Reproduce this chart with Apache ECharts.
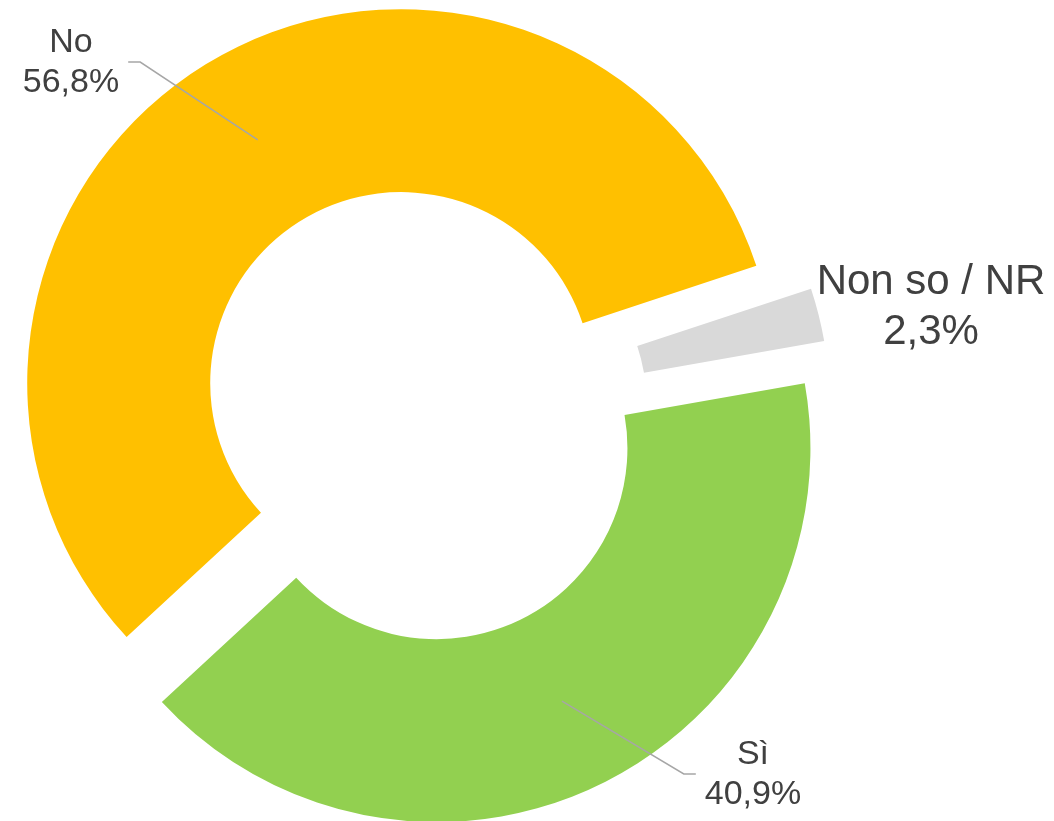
<!DOCTYPE html>
<html>
<head>
<meta charset="utf-8">
<title>Donut</title>
<script src="https://cdn.jsdelivr.net/npm/echarts@6/dist/echarts.min.js"></script>
<style>
    html, body { margin: 0; padding: 0; background: #fff; }
    #main { width: 1054px; height: 821px; }
</style>
</head>
<body>
<div id="main"></div>
<script>
// 数据
var categories = ['Sì', 'No', 'Non so / NR'];
var values = [40.9, 56.8, 2.3];
var colors = ['#92D050', '#FFC000', '#D9D9D9'];

var chart = echarts.init(document.getElementById('main'));

// 圆心、内外半径、分离距离、起始角度
var cx = 420, cy = 415, rIn = 191, rOut = 374, explode = 37, startAngle = 10;
// 标签中心位置和字号
var labelPos = [[753, 775], [71, 63], [931, 307]];
var labelFont = [34, 34, 42];

var total = values.reduce(function (a, b) { return a + b; }, 0);
var acc = 0;
var mids = values.map(function (v) {
    var span = v / total * 360;
    var m = startAngle - (acc + span / 2);
    acc += span;
    return m;
});

var series = [];

// 每个扇区一个系列，圆心沿中线方向偏移（分离效果）
categories.forEach(function (name, i) {
    var rad = mids[i] * Math.PI / 180;
    var c = [cx + explode * Math.cos(rad), cy - explode * Math.sin(rad)];
    var base = {
        type: 'pie',
        center: c,
        radius: [rIn, rOut],
        startAngle: startAngle,
        clockwise: true,
        avoidLabelOverlap: false,
        silent: true
    };

    // 扇区
    series.push(echarts.util.merge({
        z: 2,
        label: { show: false },
        labelLine: { show: false },
        data: categories.map(function (n, j) {
            return {
                name: n, value: values[j],
                itemStyle: j === i ? { color: colors[j] } : { opacity: 0 }
            };
        })
    }, base));

    // 标签和引导线（放在上层，扇区透明）
    series.push(echarts.util.merge({
        z: 5,
        label: {
            show: true,
            position: 'outside',
            color: '#404040',
            fontFamily: 'Liberation Sans, Arial, sans-serif',
            fontSize: labelFont[i],
            lineHeight: Math.round(labelFont[i] * 1.18),
            align: 'center',
            formatter: function (p) {
                return p.name + '\n' + p.value.toFixed(1).replace('.', ',') + '%';
            }
        },
        labelLine: {
            show: i !== 2,
            lineStyle: { color: '#A6A6A6', width: 1.5 }
        },
        labelLayout: function (p) {
            if (p.dataIndex !== i) return;
            var pos = labelPos[i];
            var res = { x: pos[0], y: pos[1], align: 'center', verticalAlign: 'middle' };
            if (i !== 2) {
                var rMid = (rIn + rOut) / 2;
                var p0 = [c[0] + rMid * Math.cos(rad), c[1] - rMid * Math.sin(rad)];
                var half = p.labelRect.width / 2;
                var side = pos[0] < p0[0] ? 1 : -1;
                var x2 = pos[0] + side * (half + 9);
                var y = pos[1] - 1;
                res.labelLinePoints = [p0, [x2 + side * 12, y], [x2, y]];
            }
            return res;
        },
        data: categories.map(function (n, j) {
            var item = { name: n, value: values[j], itemStyle: { color: 'rgba(0,0,0,0)' } };
            if (j !== i) {
                item.label = { show: false };
                item.labelLine = { show: false };
            }
            return item;
        })
    }, base));
});

var option = {
    animation: false,
    series: series
};

chart.setOption(option);
</script>
</body>
</html>
